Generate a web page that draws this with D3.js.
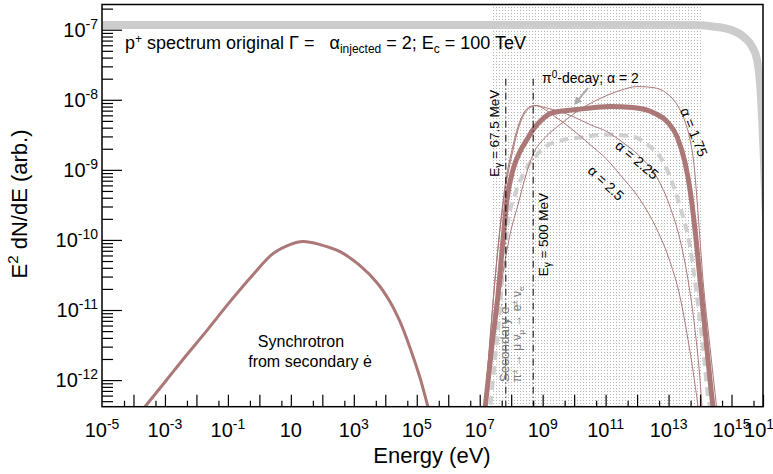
<!DOCTYPE html>
<html>
<head>
<meta charset="utf-8">
<script src="https://cdn.jsdelivr.net/npm/d3@7"></script>
<style>
  body { margin: 0; background: #fff; }
  text { font-family: "Liberation Sans", Arial, Helvetica, sans-serif; fill: #000; }
</style>
</head>
<body>
<div id="chart"></div>
<script>
// values: log10(E / eV) and log10(E^2 dN/dE)
const protonLogE = [-5.5, 0, 10, 13.4, 14.0, 14.41, 14.95, 15.37, 15.65, 15.81, 15.905, 15.97, 16.03, 16.13];
const protonLogF = [-6.933, -6.933, -6.933, -6.933, -6.935, -6.954, -6.997, -7.097, -7.24, -7.425, -7.754, -8.239, -8.853, -10.139];

const synchLogE = [-3.793, -3.634, -2.967, -2.331, -1.696, -0.933, -0.203, 0.433, 0.973, 1.386, 1.926, 2.561, 3.197, 3.737, 4.15, 4.468, 4.785, 5.103, 5.357, 5.484];
const synchLogF = [-12.466, -12.38, -12.009, -11.652, -11.309, -10.881, -10.496, -10.196, -10.067, -10.024, -10.067, -10.167, -10.367, -10.61, -10.881, -11.167, -11.538, -11.966, -12.38, -12.566];

const pi0A2LogE = [7.136, 7.2, 7.391, 7.581, 7.74, 7.867, 8.058, 8.28, 8.502, 8.693, 8.979, 9.328, 10.091, 11.139, 11.87, 12.505, 12.95, 13.268, 13.522, 13.681, 13.84, 13.999, 14.158, 14.316, 14.412, 14.475];
const pi0A2LogF = [-12.566, -12.28, -11.495, -10.781, -9.996, -9.425, -8.996, -8.739, -8.568, -8.425, -8.282, -8.182, -8.139, -8.097, -8.111, -8.182, -8.311, -8.525, -8.896, -9.282, -9.853, -10.567, -11.281, -11.995, -12.38, -12.566];

const pi0A175LogE = [7.136, 7.295, 7.486, 7.708, 7.962, 8.217, 8.471, 8.693, 9.074, 9.551, 10.186, 10.821, 11.457, 11.997, 12.505, 12.95, 13.268, 13.522, 13.681, 13.808, 13.935, 14.094, 14.316, 14.475, 14.571];
const pi0A175LogF = [-12.566, -11.995, -11.281, -10.567, -9.924, -9.496, -9.068, -8.782, -8.539, -8.354, -8.139, -7.982, -7.868, -7.811, -7.825, -7.911, -8.068, -8.311, -8.568, -8.925, -9.61, -10.567, -11.524, -12.18, -12.566];

const pi0A225LogE = [7.104, 7.2, 7.327, 7.486, 7.645, 7.835, 8.026, 8.217, 8.407, 8.598, 8.788, 9.074, 9.551, 9.964, 10.504, 11.044, 11.552, 12.093, 12.633, 13.046, 13.363, 13.617, 13.84, 13.999, 14.062, 14.094];
const pi0A225LogF = [-12.566, -12.138, -11.424, -10.567, -9.853, -9.21, -8.782, -8.425, -8.211, -8.111, -8.082, -8.111, -8.168, -8.239, -8.354, -8.454, -8.611, -8.811, -9.11, -9.525, -9.996, -10.567, -11.281, -11.995, -12.394, -12.566];

const pi0A25LogE = [7.104, 7.2, 7.327, 7.486, 7.645, 7.835, 8.026, 8.217, 8.407, 8.598, 8.788, 9.074, 9.392, 9.868, 10.504, 11.044, 11.457, 12.093, 12.633, 13.046, 13.363, 13.617, 13.84, 13.935, 13.967];
const pi0A25LogF = [-12.566, -12.138, -11.424, -10.567, -9.824, -9.139, -8.711, -8.382, -8.182, -8.097, -8.082, -8.139, -8.239, -8.397, -8.639, -8.853, -9.068, -9.425, -9.853, -10.31, -10.81, -11.424, -12.066, -12.394, -12.566];

const secElecLogE = [7.295, 7.422, 7.581, 7.74, 7.899, 8.121, 8.375, 8.82, 9.138, 9.551, 10.186, 11.044, 11.87, 12.41, 12.728, 13.046, 13.363, 13.681, 13.903, 14.094, 14.253, 14.316, 14.348];
const secElecLogF = [-12.566, -11.995, -11.281, -10.424, -9.739, -9.353, -9.068, -8.782, -8.653, -8.582, -8.539, -8.496, -8.525, -8.668, -8.811, -9.096, -9.525, -10.096, -10.81, -11.524, -12.238, -12.394, -12.566];

// shaded energy band and marked photon energies (eV)
const bandE = [2.6e7, 1.07e14];
const markerE = [6.75e7, 5e8];
const markerTopF = 2e-8;

// axis ticks
const xLabelExps = [-5, -3, -1, 1, 3, 5, 7, 9, 11, 13, 15, 16];
const yLabelExps = [-12, -11, -10, -9, -8, -7];

const width = 773, height = 474;
const frame = { left: 102, right: 763, top: 4.5, bottom: 406.7 };
const curveColor = "#ab7777";

const svg = d3.select("#chart").append("svg")
  .attr("width", width)
  .attr("height", height);

const x = d3.scaleLog().domain([1e-5, 1e16]).range([frame.left, frame.right]);
const y = d3.scaleLog().domain([10 ** -12.38, 10 ** -6.64]).range([frame.bottom, frame.top]);

const defs = svg.append("defs");
defs.append("clipPath").attr("id", "plotClip")
  .append("rect")
  .attr("x", frame.left).attr("y", frame.top)
  .attr("width", frame.right - frame.left).attr("height", frame.bottom - frame.top);
const pat = defs.append("pattern").attr("id", "dots")
  .attr("width", 3).attr("height", 3).attr("patternUnits", "userSpaceOnUse");
pat.append("rect").attr("x", 1).attr("y", 1).attr("width", 1).attr("height", 1).attr("fill", "#b4b4b4");

const plot = svg.append("g").attr("clip-path", "url(#plotClip)");

//shaded band
plot.append("rect")
  .attr("x", x(bandE[0]))
  .attr("y", frame.top)
  .attr("width", x(bandE[1]) - x(bandE[0]))
  .attr("height", frame.bottom - frame.top)
  .attr("fill", "url(#dots)");

const line = d3.line()
  .x(d => x(10 ** d[0]))
  .y(d => y(10 ** d[1]));

function drawCurve(logE, logF, stroke, w, dash, curve) {
  plot.append("path")
    .attr("d", line.curve(curve || d3.curveMonotoneX)(d3.zip(logE, logF)))
    .attr("fill", "none")
    .attr("stroke", stroke)
    .attr("stroke-width", w)
    .attr("stroke-dasharray", dash || null)
    .attr("stroke-linejoin", "round");
}

drawCurve(protonLogE, protonLogF, "#cccccc", 8);
drawCurve(secElecLogE, secElecLogF, "#cfcfcf", 4, "9,6");
drawCurve(synchLogE, synchLogF, curveColor, 3, null, d3.curveCatmullRom.alpha(0.5));
drawCurve(pi0A175LogE, pi0A175LogF, curveColor, 1);
drawCurve(pi0A225LogE, pi0A225LogF, curveColor, 1);
drawCurve(pi0A25LogE, pi0A25LogF, curveColor, 1);
drawCurve(pi0A2LogE, pi0A2LogF, curveColor, 5);

// photon energy markers
plot.selectAll(".marker").data(markerE).enter().append("line")
  .attr("class", "marker")
  .attr("x1", d => x(d)).attr("x2", d => x(d))
  .attr("y1", y(markerTopF)).attr("y2", frame.bottom)
  .attr("stroke", "#000").attr("stroke-width", 1)
  .attr("stroke-dasharray", "7,3,1,3");

// axes
const decades = d3.range(-4, 17).map(e => 10 ** e);
const fives = d3.range(-5, 16).map(e => 5 * 10 ** e);
svg.append("g").attr("transform", `translate(0,${frame.bottom})`)
  .call(d3.axisBottom(x).tickValues(decades).tickSize(-12).tickSizeOuter(0).tickFormat(""));
svg.append("g").attr("transform", `translate(0,${frame.bottom})`)
  .call(d3.axisBottom(x).tickValues(fives).tickSize(-6).tickSizeOuter(0).tickFormat(""));

const yMajor = d3.range(-12, -6).map(e => 10 ** e);
const yMinor = [];
d3.range(-13, -6).forEach(e => { for (let m = 2; m <= 9; m++) yMinor.push(m * 10 ** e); });
svg.append("g").attr("transform", `translate(${frame.left},0)`)
  .call(d3.axisLeft(y).tickValues(yMajor).tickSize(-20).tickSizeOuter(0).tickFormat(""));
svg.append("g").attr("transform", `translate(${frame.left},0)`)
  .call(d3.axisLeft(y).tickValues(yMinor.filter(v => y(v) <= frame.bottom && y(v) >= frame.top))
    .tickSize(-11).tickSizeOuter(0).tickFormat(""));
svg.selectAll(".domain").remove();
svg.selectAll(".tick line").attr("stroke", "#000").attr("stroke-width", 1.2);

svg.append("rect")
  .attr("x", frame.left).attr("y", frame.top)
  .attr("width", frame.right - frame.left).attr("height", frame.bottom - frame.top)
  .attr("fill", "none").attr("stroke", "#000").attr("stroke-width", 1.5);

// tick labels
function powerLabel(t, exp) {
  t.append("tspan").text("10");
  if (exp !== 1) t.append("tspan").attr("dy", -8).attr("font-size", 14).text(exp);
}
svg.selectAll(".xlab").data(xLabelExps).enter().append("text")
  .attr("class", "xlab")
  .attr("x", d => x(10 ** d))
  .attr("y", 437)
  .attr("text-anchor", "middle")
  .attr("font-size", 20)
  .each(function (d) { powerLabel(d3.select(this), d); });
svg.selectAll(".ylab").data(yLabelExps).enter().append("text")
  .attr("class", "ylab")
  .attr("x", 98)
  .attr("y", d => y(10 ** d) + 7)
  .attr("text-anchor", "end")
  .attr("font-size", 20)
  .each(function (d) { powerLabel(d3.select(this), d); });

// axis titles
svg.append("text").attr("x", 432).attr("y", 463).attr("text-anchor", "middle")
  .attr("font-size", 22).text("Energy (eV)");
const yt = svg.append("text").attr("transform", "translate(27,204) rotate(-90)")
  .attr("text-anchor", "middle").attr("font-size", 22);
yt.append("tspan").text("E");
yt.append("tspan").attr("dy", -9).attr("font-size", 15).text("2");
yt.append("tspan").attr("dy", 9).text(" dN/dE (arb.)");

// annotations
const px = e => x(10 ** e), py = f => y(10 ** f);

const title = svg.append("text").attr("x", px(-4.27)).attr("y", py(-7.275)).attr("font-size", 18);
title.append("tspan").text("p");
title.append("tspan").attr("dy", -6).attr("font-size", 12).text("+");
title.append("tspan").attr("dy", 6).text(" spectrum original \u0393 =\u00a0\u00a0\u00a0\u03b1");
title.append("tspan").attr("dy", 4).attr("font-size", 12).text("injected");
title.append("tspan").attr("dy", -4).text(" = 2; E");
title.append("tspan").attr("dy", 4).attr("font-size", 12).text("c");
title.append("tspan").attr("dy", -4).text(" = 100 TeV");

const pl = svg.append("text").attr("x", px(8.98)).attr("y", py(-7.76)).attr("font-size", 14);
pl.append("tspan").text("\u03c0");
pl.append("tspan").attr("dy", -5).attr("font-size", 10).text("0");
pl.append("tspan").attr("dy", 5).text("-decay; \u03b1 = 2");

defs.append("marker").attr("id", "arrow").attr("viewBox", "0 0 10 10")
  .attr("refX", 5).attr("refY", 5).attr("markerWidth", 4).attr("markerHeight", 4)
  .attr("orient", "auto")
  .append("path").attr("d", "M0,0 L10,5 L0,10 z").attr("fill", "#aaa");
svg.append("line")
  .attr("x1", px(10.44)).attr("y1", py(-7.83))
  .attr("x2", px(10.08)).attr("y2", py(-8.03))
  .attr("stroke", "#aaa").attr("stroke-width", 2)
  .attr("marker-end", "url(#arrow)");

function rotLabel(logE, logF, angle, size, color, anchor) {
  return svg.append("text")
    .attr("transform", `translate(${px(logE)},${py(logF)}) rotate(${angle})`)
    .attr("text-anchor", anchor)
    .attr("font-size", size)
    .style("fill", color);
}
function eGamma(t, rest) {
  t.append("tspan").text("E");
  t.append("tspan").attr("dy", 3).attr("font-size", 10).text("\u03b3");
  t.append("tspan").attr("dy", -3).text(rest);
}
eGamma(rotLabel(7.61, -9.1, -90, 13.5, "#000", "start"), " = 67.5 MeV");
eGamma(rotLabel(9.16, -10.52, -90, 13.5, "#000", "start"), " = 500 MeV");

const sec = rotLabel(7.93, -12.03, -90, 13.5, "#777", "start");
sec.append("tspan").text("Secondary e");
sec.append("tspan").attr("dy", -5).attr("font-size", 9).text("-");
const chain = rotLabel(8.31, -12.03, -90, 12, "#777", "start");
chain.append("tspan").text("\u03c0");
chain.append("tspan").attr("dy", -4).attr("font-size", 8).text("\u00b1");
chain.append("tspan").attr("dy", 4).text(" \u2192 \u03bc \u03bd");
chain.append("tspan").attr("dy", 3).attr("font-size", 8).text("\u03bc");
chain.append("tspan").attr("dy", -3).text(" \u2192 e");
chain.append("tspan").attr("dy", -4).attr("font-size", 8).text("\u00b1");
chain.append("tspan").attr("dy", 4).text(" \u03bd");
chain.append("tspan").attr("dy", 3).attr("font-size", 8).text("e");

rotLabel(13.808, -8.46, 68, 14, "#000", "middle").attr("dy", 5).text("\u03b1 = 1.75");
rotLabel(12.0, -8.859, 40, 14, "#000", "middle").attr("dy", 5).text("\u03b1 = 2.25");
rotLabel(11.012, -9.187, 43, 14, "#000", "middle").attr("dy", 5).text("\u03b1 = 2.5");

svg.append("text").attr("x", px(1.322)).attr("y", py(-11.528)).attr("text-anchor", "middle")
  .attr("font-size", 16).text("Synchrotron");
svg.append("text").attr("x", px(1.608)).attr("y", py(-11.81)).attr("text-anchor", "middle")
  .attr("font-size", 16).text("from secondary \u0117");
</script>
</body>
</html>
